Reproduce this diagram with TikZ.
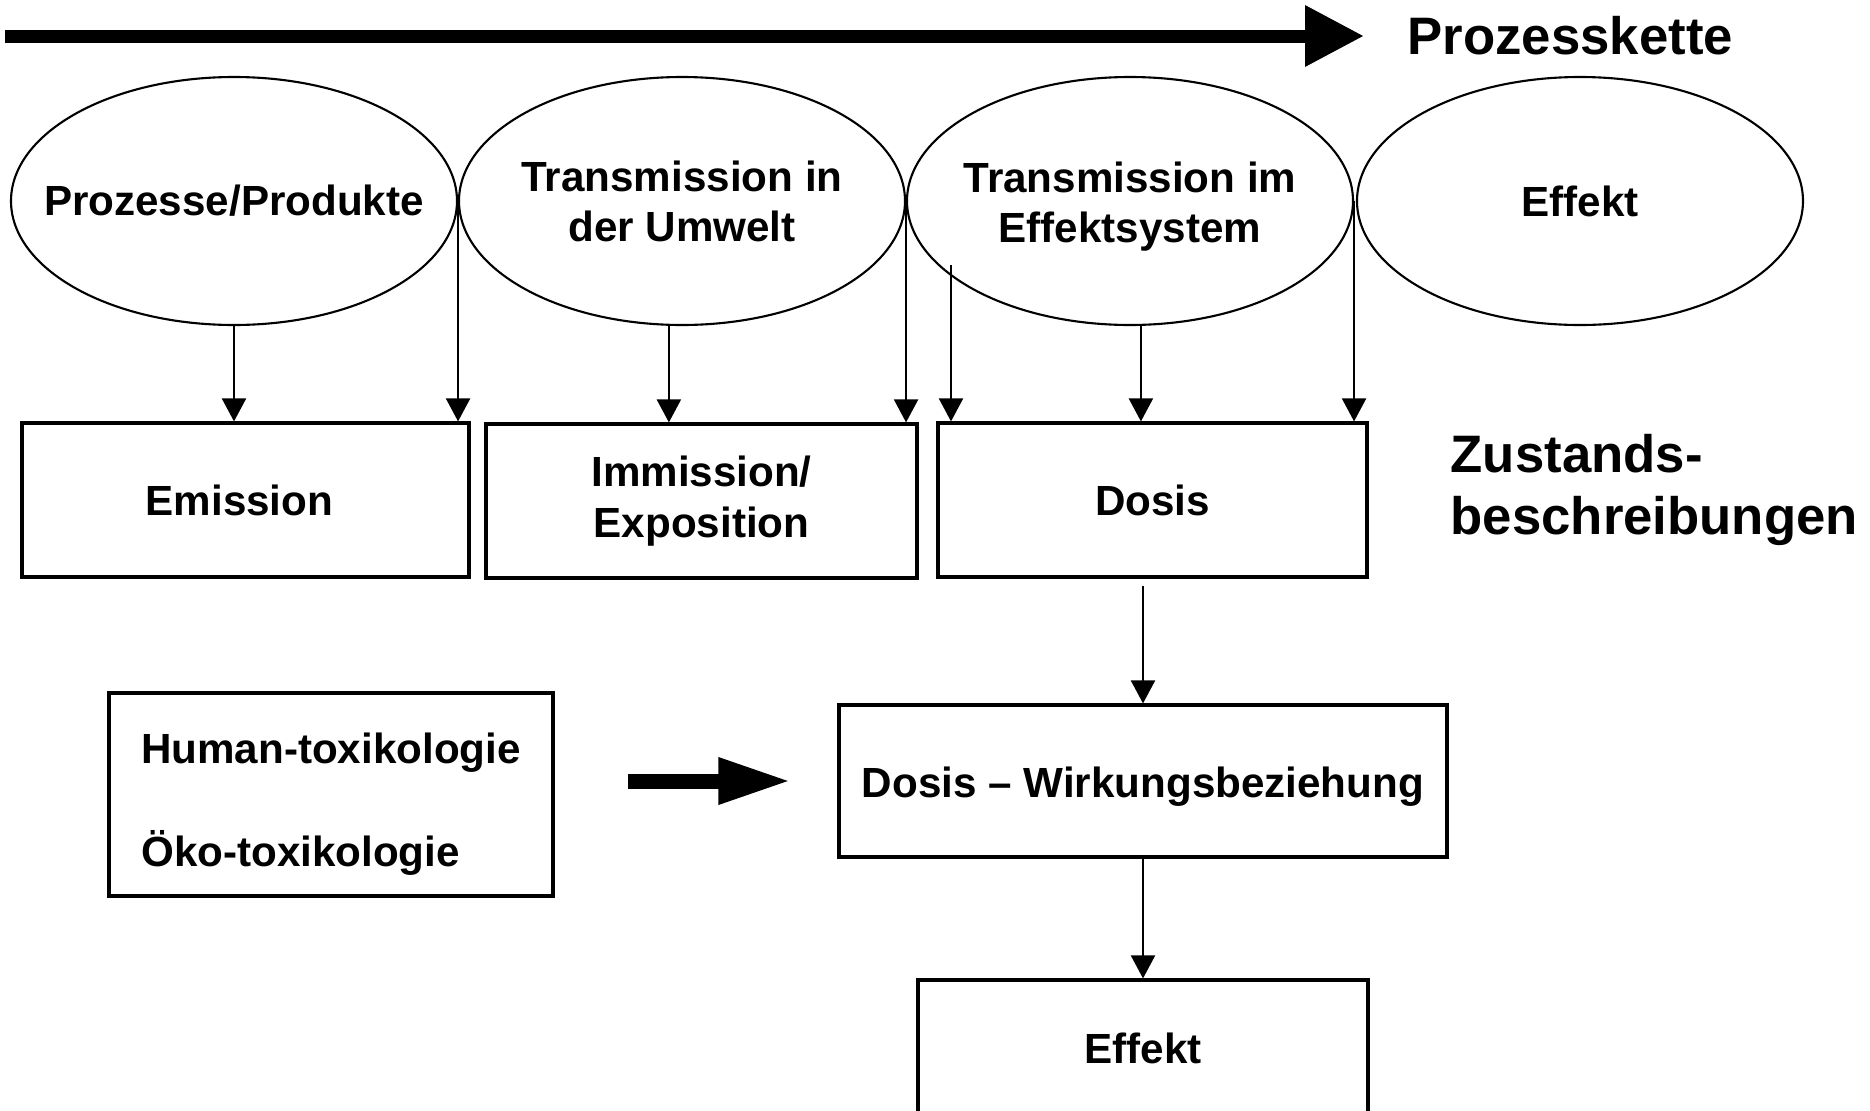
\documentclass[tikz,border=0pt]{standalone}
\usepackage{fontspec}
\setmainfont{Liberation Sans}
\usetikzlibrary{arrows.meta, shapes.geometric, positioning}

\begin{document}
\begin{tikzpicture}[
        phase/.style={ellipse, draw, line width=0.6pt, minimum width=4.46cm, minimum height=2.48cm, inner xsep=-0.6cm, align=center, font=\fontsize{12}{14.2}\selectfont\bfseries},
        statebox/.style={rectangle, draw, line width=0.9pt, minimum height=1.54cm, align=center, font=\fontsize{12}{14.5}\selectfont\bfseries},
        sidetext/.style={inner sep=0pt, anchor=west, align=left, font=\fontsize{15}{17.6}\selectfont\bfseries},
        arrow/.style={-{Triangle[length=0.23cm, width=0.24cm]}, line width=0.6pt},
        bigarrow/.style={-{Triangle[length=0.59cm, width=0.58cm]}, line width=0.13cm},
        blockarrow/.style={-{Triangle[length=0.73cm, width=0.43cm]}, line width=0.15cm}
    ]
        \useasboundingbox (0,0) rectangle (18.7,11.1);

        % Prozesskette
        \coordinate (chainstart) at (0.05, 10.74);
        \node[sidetext] (chain) at (14.07, 10.74) {Prozesskette};
        \draw[bigarrow, shorten >=0.43cm] (chainstart) -- (chain.west);

        \node[phase] (proz)    at (2.34, 9.09)  {Prozesse/Produkte};
        \node[phase] (umwelt)  at (6.82, 9.09)  {Transmission in\\der Umwelt};
        \node[phase] (effsys)  at (11.30, 9.09) {\rule{0pt}{0.42cm}Transmission im\\Effektsystem};
        \node[phase] (effekt)  at (15.80, 9.09) {Effekt};

        \node[statebox, minimum width=4.47cm] (emis)  at (2.455, 6.10)  {Emission\hspace*{0.12cm}};
        \node[statebox, minimum width=4.31cm] (immi)  at (7.015, 6.09)  {Immission/\\Exposition};
        \node[statebox, minimum width=4.29cm] (dosis) at (11.525, 6.10) {Dosis};
        \node[sidetext] (zust) at (14.50, 6.20) {Zustands-\\beschreibungen};

        \node[statebox, minimum width=6.08cm, minimum height=1.52cm] (dwb) at (11.43, 3.29) {\rule{0pt}{0.42cm}Dosis -- Wirkungsbeziehung};
        \node[statebox, minimum width=4.50cm, minimum height=1.36cm] (effbox) at (11.43, 0.62) {Effekt};
        \node[statebox, minimum width=4.44cm, minimum height=2.03cm, align=left] (hum) at (3.31, 3.155) {\rule{0pt}{0.50cm}Human-toxikologie\\[0.52cm]Öko-toxikologie};

        \coordinate (effin) at (9.51, 8.45);

        \draw[arrow] (proz.south)  -- (proz.south |- emis.north);
        \draw[arrow] (proz.east)   -- (proz.east |- emis.north);
        \draw[arrow] (umwelt.-96)  -- (umwelt.-96 |- immi.north);
        \draw[arrow] (umwelt.east) -- (umwelt.east |- immi.north);
        \draw[arrow] (effin)       -- (effin |- dosis.north);
        \draw[arrow] (effsys.-85)  -- (effsys.-85 |- dosis.north);
        \draw[arrow] (effsys.east) -- (effsys.east |- dosis.north);

        \draw[arrow, shorten <=0.07cm] (dosis.south -| dwb.north) -- (dwb.north);
        \draw[arrow] (dwb.south) -- (effbox.north);
        \draw[blockarrow, shorten <=0.73cm, shorten >=0.46cm] (hum.east |- dwb.west) -- (dwb.west);
    \end{tikzpicture}
\end{document}
